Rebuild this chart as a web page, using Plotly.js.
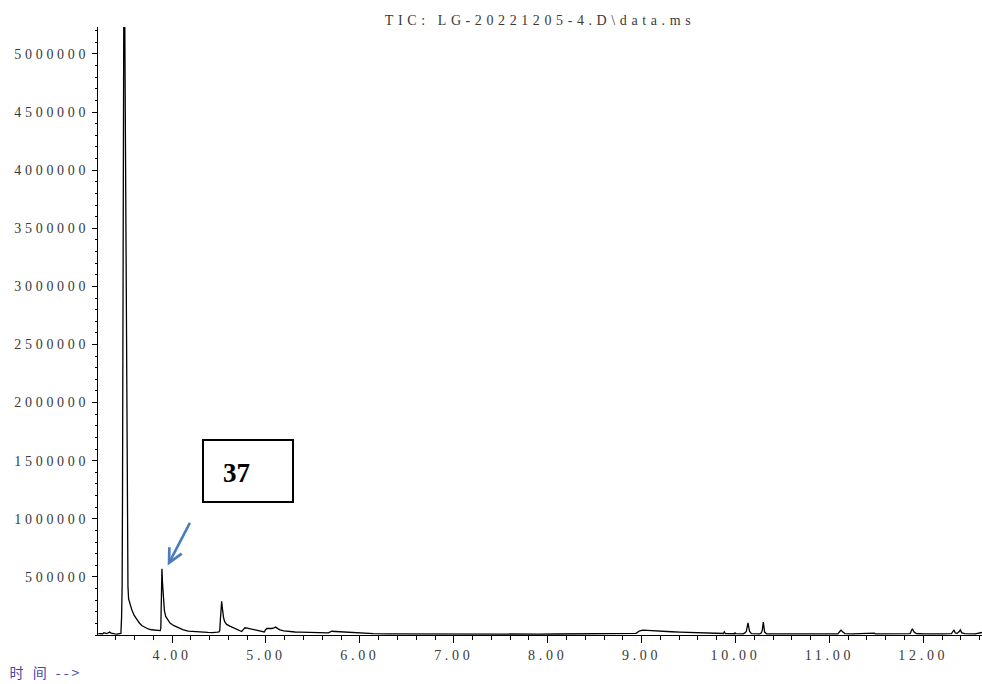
<!DOCTYPE html>
<html>
<head>
<meta charset="utf-8">
<script src="https://cdn.plot.ly/plotly-3.0.1.min.js"></script>
<style>
  html, body { margin: 0; padding: 0; background: #fff; }
  #chart { width: 982px; height: 684px; }
  .xtick text, .ytick text { letter-spacing: 3.7px; }
  .gtitle { letter-spacing: 4.6px; }
  .annotation[data-index="3"] text { letter-spacing: 3px; }
</style>
</head>
<body>
<div id="chart"></div>
<script>
// Retention time (min)
const time = [
  3.214, 3.240, 3.260, 3.275, 3.285, 3.300, 3.320, 3.335, 3.350, 3.370, 3.390, 3.410, 3.430, 3.445, 3.455,
  3.462, 3.468, 3.472, 3.476, 3.480, 3.484, 3.489, 3.494, 3.500, 3.506, 3.512, 3.518, 3.524, 3.530, 3.537,
  3.550, 3.570, 3.595, 3.623, 3.650, 3.676, 3.710, 3.746, 3.780, 3.818, 3.850, 3.874,
  3.880, 3.886, 3.892, 3.898, 3.906, 3.918, 3.932, 3.955, 3.978, 4.020, 4.066, 4.120, 4.172, 4.240, 4.315,
  4.380, 4.430, 4.457, 4.480, 4.500, 4.508, 4.515, 4.522, 4.528, 4.534, 4.540, 4.548, 4.560, 4.581, 4.615,
  4.652, 4.700, 4.741, 4.760, 4.776, 4.800, 4.830, 4.870, 4.918, 4.960, 4.982, 4.995, 5.010, 5.040, 5.061,
  5.085, 5.103, 5.125, 5.149, 5.190, 5.237, 5.309, 5.362, 5.450, 5.540, 5.620, 5.663, 5.685, 5.700, 5.740,
  5.788, 5.860, 5.930, 5.975, 6.001, 6.070, 6.143, 6.300, 6.500, 6.700, 6.900, 7.100, 7.300, 7.500, 7.700,
  7.900, 8.100, 8.300, 8.500, 8.700, 8.900, 8.940, 8.954, 8.975, 9.000, 9.018, 9.060, 9.120, 9.231, 9.320,
  9.409, 9.550, 9.693, 9.800, 9.870, 9.881, 9.892, 9.990, 9.995, 10.002, 10.080, 10.100, 10.115, 10.133,
  10.150, 10.170, 10.260, 10.275, 10.285, 10.296, 10.310, 10.330, 10.600, 10.900, 11.090, 11.110, 11.123,
  11.140, 11.165, 11.250, 11.380, 11.392, 11.404, 11.470, 11.478, 11.490, 11.600, 11.750, 11.860, 11.875,
  11.883, 11.900, 11.925, 12.000, 12.060, 12.080, 12.200, 12.300, 12.315, 12.327, 12.340, 12.360, 12.382,
  12.394, 12.410, 12.440, 12.550, 12.600, 12.628
];
// Total ion current (abundance)
const abundance = [
  12000, 10000, 11000, 20000, 15000, 12000, 18000, 25000, 16000, 10000, 9000, 8000, 9000, 10000, 14000,
  150000, 420000, 1200000, 2600000, 3900000, 5300000, 6400000, 5600000, 4600000, 3600000, 2300000, 1400000, 800000, 420000, 310000,
  265000, 220000, 170000, 134000, 105000, 82000, 64000, 52000, 45000, 41000, 39000, 38000,
  60000, 300000, 570000, 450000, 320000, 210000, 160000, 125000, 103000, 80000, 62000, 45000, 33000, 28000, 25000,
  22000, 21000, 20000, 24000, 27000, 40000, 140000, 240000, 290000, 240000, 190000, 150000, 115000, 91000, 76000,
  63000, 47000, 30000, 48000, 62000, 60000, 54000, 44000, 33000, 27000, 26000, 45000, 56000, 57000, 56000,
  62000, 68000, 55000, 44000, 36000, 30000, 26000, 25000, 22000, 20000, 19000, 19000, 26000, 32000, 30000,
  28000, 26000, 25000, 20000, 16000, 13000, 11000, 10000, 9000, 8500, 8000, 8000, 8500, 8000, 7500,
  8000, 8500, 9000, 10000, 11000, 12000, 14000, 22000, 34000, 40000, 42000, 40000, 36000, 31000, 28000,
  25000, 22000, 20000, 16000, 13000, 28000, 13000, 11000, 22000, 11000, 10000, 18000, 30000, 105000,
  30000, 11000, 10000, 18000, 40000, 111000, 25000, 10000, 9000, 9500, 10000, 30000, 42000,
  28000, 12000, 10000, 11000, 16000, 10000, 11000, 16000, 10000, 9000, 10000, 12000, 40000,
  54000, 28000, 13000, 10000, 14000, 10000, 9000, 11000, 30000, 44000, 18000, 14000, 30000,
  44000, 18000, 11000, 9500, 14000, 22000
];

const xTickVals = [4, 5, 6, 7, 8, 9, 10, 11, 12];
const xTickText = ['4.00', '5.00', '6.00', '7.00', '8.00', '9.00', '10.00', '11.00', '12.00'];
const yTickVals = [500000, 1000000, 1500000, 2000000, 2500000, 3000000, 3500000, 4000000, 4500000, 5000000];
const yTickText = ['500000', '1000000', '1500000', '2000000', '2500000', '3000000', '3500000', '4000000', '4500000', '5000000'];

const chartTitle = 'TIC: LG-20221205-4.D\\data.ms';
const peakLabel = '37';
const peakTime = 3.953;
const peakArrowY = 598600;
const timeAxisLabel = '时 间 --&gt;';

const tickFont = { family: 'Liberation Serif, serif', size: 14, color: '#3a3a3a' };

const trace = {
  x: time,
  y: abundance,
  type: 'scatter',
  mode: 'lines',
  line: { color: '#000', width: 1.3 },
  hoverinfo: 'skip'
};

const layout = {
  width: 982,
  height: 684,
  margin: { l: 98, r: 0, t: 27, b: 49 },
  paper_bgcolor: '#fff',
  plot_bgcolor: '#fff',
  showlegend: false,
  title: {
    text: chartTitle,
    x: 0.5, xref: 'paper', xanchor: 'center',
    y: 1 - 20 / 684, yref: 'container', yanchor: 'middle',
    font: { family: 'Liberation Serif, serif', size: 14, color: '#3a3a3a' }
  },
  xaxis: {
    range: [3.211, 12.625],
    showgrid: false, zeroline: false,
    showline: true, linecolor: '#000', linewidth: 1,
    tickmode: 'array', tickvals: xTickVals, ticktext: xTickText,
    ticks: 'outside', ticklen: 7, tickwidth: 1, tickcolor: '#000',
    tickfont: tickFont,
    minor: { tickmode: 'linear', tick0: 0, dtick: 0.2, ticks: 'outside', ticklen: 4, tickwidth: 1, tickcolor: '#000', showgrid: false }
  },
  yaxis: {
    range: [0, 5232000],
    showgrid: false, zeroline: false,
    showline: true, linecolor: '#000', linewidth: 1,
    tickmode: 'array', tickvals: yTickVals, ticktext: yTickText,
    ticks: 'outside', ticklen: 5, tickwidth: 1, tickcolor: '#000',
    tickfont: tickFont,
    minor: { tickmode: 'linear', tick0: 0, dtick: 100000, ticks: 'outside', ticklen: 2, tickwidth: 1, tickcolor: '#000', showgrid: false }
  },
  annotations: [
    {
      xref: 'paper', yref: 'paper',
      x: (248 - 98) / 884, y: (635 - 471) / 608,
      xanchor: 'center', yanchor: 'middle',
      text: ' ', showarrow: false,
      width: 88, height: 60,
      bordercolor: '#000', borderwidth: 2, borderpad: 0,
      bgcolor: 'rgba(255,255,255,0)'
    },
    {
      xref: 'paper', yref: 'paper',
      x: (236.7 - 98) / 884, y: (635 - 473) / 608,
      xanchor: 'center', yanchor: 'middle',
      text: '<b>' + peakLabel + '</b>', showarrow: false,
      font: { family: 'Liberation Serif, serif', size: 27, color: '#000' }
    },
    {
      x: peakTime, y: peakArrowY, xref: 'x', yref: 'y',
      text: '', showarrow: true,
      ax: 23, ay: -44,
      arrowhead: 5, arrowsize: 1.05, arrowwidth: 2.6,
      arrowcolor: '#4a7ebb', standoff: 0
    },
    {
      xref: 'paper', yref: 'paper',
      x: (46 - 98) / 884, y: (635 - 672) / 608,
      xanchor: 'center', yanchor: 'middle',
      text: timeAxisLabel, showarrow: false, borderpad: 0,
      font: { family: 'Noto Sans CJK SC, sans-serif', size: 14, color: '#4646aa' }
    }
  ]
};

Plotly.newPlot('chart', [trace], layout, { displayModeBar: false, staticPlot: true });
</script>
</body>
</html>
